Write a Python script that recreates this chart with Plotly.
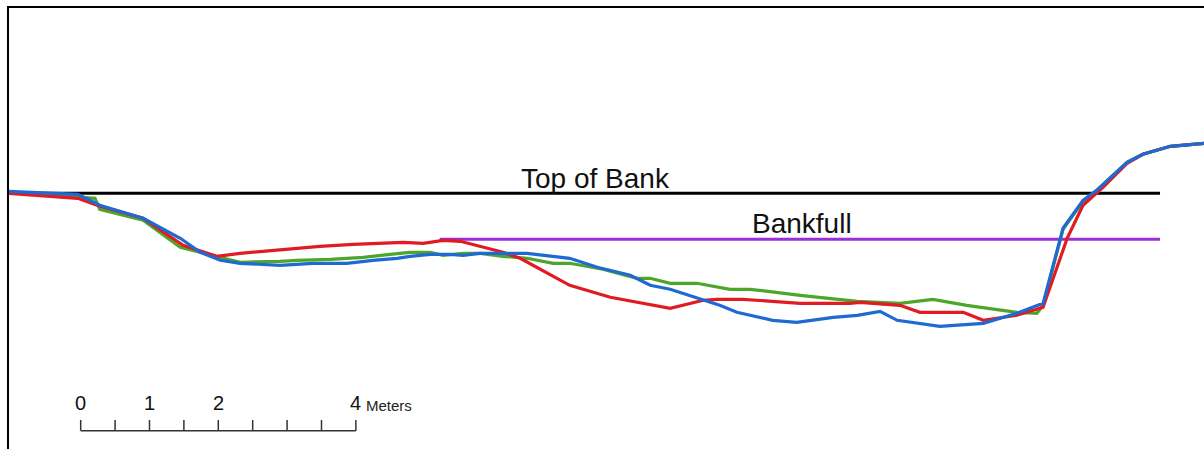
import plotly.graph_objects as go

# Channel cross-section: station (m from left end) and elevation (m relative to top of bank)
red_station = [0.00, 1.00, 1.32, 1.95, 2.53, 3.02, 3.36, 3.69, 4.52, 5.00, 5.54, 5.73, 6.02, 6.31,
               6.56, 6.85, 7.18, 7.43, 7.67, 8.15, 8.74, 9.13, 9.61, 10.09, 10.29, 10.67, 11.50,
               12.22, 12.37, 12.95, 13.24, 13.87, 14.16, 14.65, 15.03, 15.38, 15.61, 15.90, 16.05,
               16.25, 16.48, 16.88, 17.37]
red_elev = [0.00, -0.05, -0.13, -0.25, -0.52, -0.63, -0.60, -0.58, -0.53, -0.51, -0.50, -0.49, -0.50,
            -0.47, -0.48, -0.53, -0.59, -0.65, -0.74, -0.92, -1.04, -1.09, -1.15, -1.07, -1.06, -1.06,
            -1.10, -1.10, -1.09, -1.12, -1.19, -1.19, -1.27, -1.22, -1.14, -0.45, -0.12, 0.06, 0.16,
            0.30, 0.39, 0.47, 0.50]

green_station = [0.00, 1.25, 1.32, 1.95, 2.49, 2.78, 3.36, 3.94, 4.19, 4.67, 5.15, 5.54, 5.83, 6.12,
                 6.31, 6.60, 6.85, 7.18, 7.53, 7.91, 8.15, 8.63, 9.13, 9.32, 9.61, 10.00, 10.33,
                 10.48, 10.77, 11.50, 12.33, 12.95, 13.43, 13.92, 14.65, 14.94, 15.03, 15.32, 15.61,
                 15.81, 16.00, 16.25, 16.48, 16.88, 17.37]
green_elev = [0.01, -0.05, -0.16, -0.27, -0.54, -0.59, -0.69, -0.68, -0.67, -0.66, -0.64, -0.61, -0.59,
              -0.59, -0.62, -0.60, -0.60, -0.63, -0.65, -0.70, -0.70, -0.76, -0.85, -0.85, -0.90, -0.90,
              -0.94, -0.96, -0.96, -1.02, -1.08, -1.10, -1.06, -1.12, -1.19, -1.20, -1.12, -0.36, -0.08,
              0.03, 0.15, 0.31, 0.39, 0.47, 0.50]

blue_station = [0.00, 1.00, 1.32, 1.95, 2.49, 2.78, 3.07, 3.36, 3.94, 4.42, 4.91, 5.15, 5.29, 5.64,
                5.83, 6.12, 6.41, 6.60, 6.85, 7.09, 7.53, 8.15, 8.55, 9.03, 9.32, 9.61, 10.00, 10.33,
                10.58, 11.10, 11.45, 11.98, 12.33, 12.66, 12.91, 13.53, 14.16, 14.65, 15.03, 15.32,
                15.61, 15.81, 16.25, 16.48, 16.88, 17.37]
blue_elev = [0.02, -0.01, -0.12, -0.25, -0.45, -0.59, -0.67, -0.70, -0.72, -0.70, -0.70, -0.68, -0.67,
             -0.65, -0.63, -0.61, -0.61, -0.62, -0.60, -0.60, -0.60, -0.65, -0.74, -0.82, -0.92, -0.96,
             -1.05, -1.12, -1.19, -1.27, -1.29, -1.24, -1.22, -1.18, -1.27, -1.33, -1.30, -1.20, -1.10,
             -0.35, -0.07, 0.03, 0.31, 0.39, 0.47, 0.50]

# Reference stages
top_of_bank_elev = 0.00
top_of_bank_span = [0.00, 16.73]
bankfull_elev = -0.46
bankfull_span = [6.26, 16.73]
stage_labels = ["Top of Bank", "Bankfull"]
stage_label_station = [8.52, 11.53]

# Scale bar (metres)
scale_origin = 1.042
scale_ticks = [0.0, 0.5, 1.0, 1.5, 2.0, 2.5, 3.0, 3.5, 4.0]
scale_labels = [0, 1, 2, 4]
scale_unit = "Meters"

FONT = "Liberation Sans, Arial, sans-serif"

fig = go.Figure()

fig.add_trace(go.Scatter(x=top_of_bank_span, y=[top_of_bank_elev] * 2, mode="lines",
                         line=dict(color="#000000", width=3), hoverinfo="skip"))
fig.add_trace(go.Scatter(x=bankfull_span, y=[bankfull_elev] * 2, mode="lines",
                         line=dict(color="#9b2fd3", width=3), hoverinfo="skip"))

for st, el, col in [(green_station, green_elev, "#4ca62a"),
                    (red_station, red_elev, "#e11b22"),
                    (blue_station, blue_elev, "#1f6ad2")]:
    fig.add_trace(go.Scatter(x=st, y=el, mode="lines",
                             line=dict(color=col, width=3.2, shape="linear")))

annotations = [
    dict(x=stage_label_station[0], y=0.153, text=stage_labels[0], showarrow=False,
         xanchor="center", yanchor="middle", font=dict(family=FONT, size=28, color="#111111")),
    dict(x=stage_label_station[1], y=-0.297, text=stage_labels[1], showarrow=False,
         xanchor="center", yanchor="middle", font=dict(family=FONT, size=28, color="#111111")),
]

bar_y = -2.374
tick_top = -2.267
shapes = [dict(type="line", xref="x", yref="y", x0=scale_origin, x1=scale_origin + scale_ticks[-1],
               y0=bar_y, y1=bar_y, line=dict(color="#333333", width=1.5))]
for t in scale_ticks:
    shapes.append(dict(type="line", xref="x", yref="y", x0=scale_origin + t, x1=scale_origin + t,
                       y0=bar_y, y1=tick_top, line=dict(color="#333333", width=1.5)))
for lab in scale_labels:
    annotations.append(dict(x=scale_origin + lab, y=-2.100, text=str(lab), showarrow=False,
                            xanchor="center", yanchor="middle",
                            font=dict(family=FONT, size=20, color="#111111")))
annotations.append(dict(x=scale_origin + scale_ticks[-1] + 0.12, y=-2.117, text=scale_unit,
                        showarrow=False, xanchor="left", yanchor="middle",
                        font=dict(family=FONT, size=15, color="#222222")))

fig.update_layout(
    width=1204, height=449,
    margin=dict(l=0, r=0, t=0, b=0),
    paper_bgcolor="white", plot_bgcolor="white",
    showlegend=False,
    shapes=shapes,
    annotations=annotations,
    xaxis=dict(domain=[9 / 1204, 1], range=[0, 17.369], side="top", showline=True,
               linecolor="#000000", linewidth=2, showgrid=False, zeroline=False,
               showticklabels=False, ticks=""),
    yaxis=dict(domain=[0, 1 - 8 / 449], range=[-2.557, 1.853], showline=True,
               linecolor="#000000", linewidth=2, showgrid=False, zeroline=False,
               showticklabels=False, ticks=""),
)

fig.write_html("out.html")
